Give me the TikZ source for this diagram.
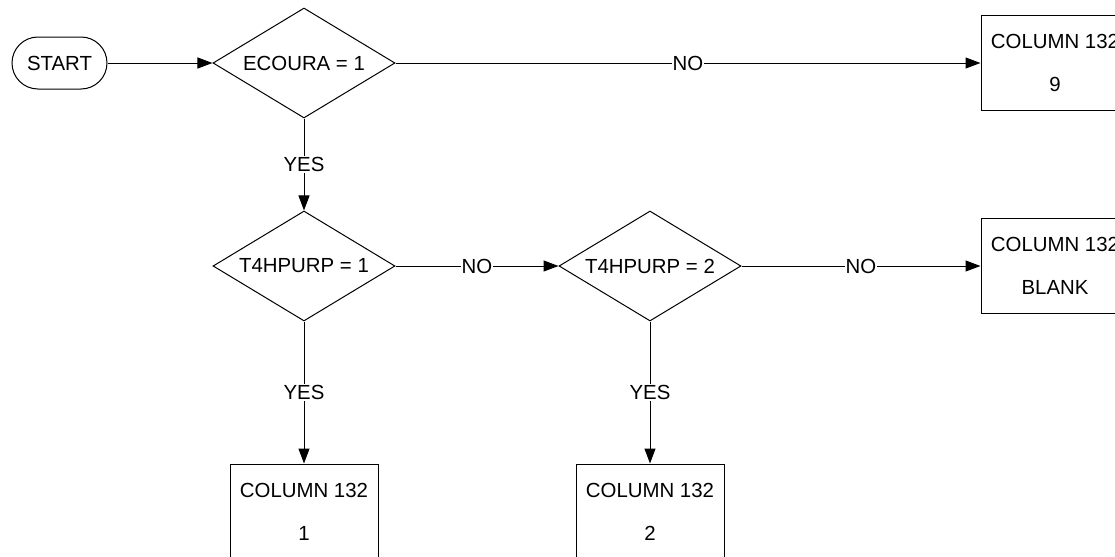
\documentclass[tikz,border=0pt]{standalone}
\usepackage{fontspec}
\setmainfont{Liberation Sans}
\usetikzlibrary{arrows.meta, shapes.geometric}

\begin{document}
\begin{tikzpicture}[x=0.5pt, y=-0.5pt, line width=0.5pt,
  font=\fontsize{10.2}{12}\selectfont,
  startbox/.style={draw, rounded corners=13pt, minimum width=47.5pt,
                   minimum height=26pt},
  decision/.style={draw, diamond, aspect=1.65, inner sep=0pt,
                   minimum width=91pt, minimum height=55pt},
  colbox/.style={draw, align=center, minimum width=74pt, minimum height=47.5pt,
                 font=\fontsize{10.2}{21.5}\selectfont},
  flow/.style={-{Triangle[length=7.5pt, width=5.5pt]}},
  answer/.style={fill=white, inner sep=0.5pt}]
  \clip (0,0) rectangle (1115,557);
  \node[startbox] (start) at (59.5,63) {START};
  \node[decision] (ecoura) at (304,63) {ECOURA = 1};
  \node[colbox] (colnine) at (1055,63) {COLUMN 132\\9};
  \node[decision] (purpone) at (304,266) {T4HPURP = 1};
  \node[decision] (purptwo) at (650,266) {T4HPURP = 2};
  \node[colbox] (colblank) at (1055,266) {COLUMN 132\\BLANK};
  \node[colbox] (colone) at (304,511.5) {COLUMN 132\\1};
  \node[colbox] (coltwo) at (650,511.5) {COLUMN 132\\2};
  \draw[flow] (start) -- (ecoura);
  \draw[flow] (ecoura) -- node[answer] {NO} (colnine);
  \draw[flow] (ecoura) -- node[answer] {YES} (purpone);
  \draw[flow] (purpone) -- node[answer] {NO} (purptwo);
  \draw[flow] (purptwo) -- node[answer] {NO} (colblank);
  \draw[flow] (purpone) -- node[answer] {YES} (colone);
  \draw[flow] (purptwo) -- node[answer] {YES} (coltwo);
\end{tikzpicture}
\end{document}
